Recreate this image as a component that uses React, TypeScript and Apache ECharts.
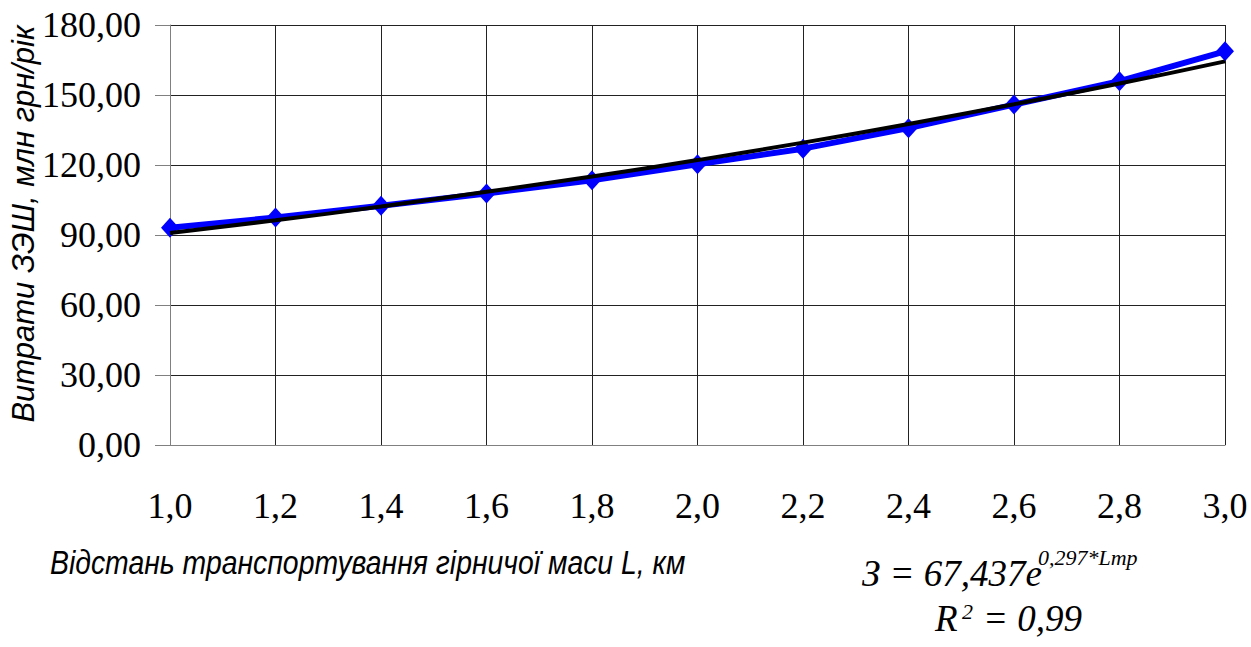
import React, { useEffect, useRef } from "react";
import * as echarts from "echarts";

const xValues = [1.0, 1.2, 1.4, 1.6, 1.8, 2.0, 2.2, 2.4, 2.6, 2.8, 3.0];
const costValues = [93.1, 97.5, 102.5, 107.8, 113.5, 120.3, 127.0, 135.8, 145.9, 155.9, 168.7];
const trendValues = [90.9, 96.3, 102.2, 108.5, 115.1, 122.1, 129.6, 137.6, 146.0, 154.9, 164.4];
const yTitle = "Витрати ЗЭШ, млн грн/рік";
const xTitle = "Відстань транспортування гірничої маси L, км";
const eqMain = "З = 67,437e";
const eqSup = "0,297*Lmp";
const r2Main = "R";
const r2Sup = "2";
const r2Rest = "= 0,99";

const SERIF = "Liberation Serif";
const SANS = "Liberation Sans";

const txt = (
  text: string,
  x: number,
  y: number,
  size: number,
  family: string,
  scaleX: number,
  extra: any = {}
) => ({
  type: "text",
  x,
  y,
  scaleX,
  ...extra,
  style: {
    text,
    fontFamily: family,
    fontSize: size,
    fontStyle: "italic",
    fill: "#000",
    align: extra.align || "left",
    verticalAlign: "middle",
  },
});

export default function App() {
  const ref = useRef<HTMLDivElement>(null);
  useEffect(() => {
    document.body.style.margin = "0";
    const chart = echarts.init(ref.current!, null, { renderer: "svg" });
    chart.setOption({
      animation: false,
      backgroundColor: "#ffffff",
      grid: { left: 170, right: 26, top: 25, bottom: 202 },
      xAxis: {
        type: "value",
        min: 1,
        max: 3,
        interval: 0.2,
        axisLine: { show: true, lineStyle: { color: "#808080", width: 1 } },
        axisTick: { show: false },
        splitLine: { show: true, lineStyle: { color: "#222", width: 1 } },
        axisLabel: {
          margin: 43,
          color: "#000",
          fontFamily: SERIF,
          fontSize: 36,
          formatter: (v: number) => v.toFixed(1).replace(".", ","),
        },
      },
      yAxis: {
        type: "value",
        min: 0,
        max: 180,
        interval: 30,
        axisLine: { show: true, lineStyle: { color: "#808080", width: 1 } },
        axisTick: { show: true, inside: false, length: 15, lineStyle: { color: "#808080" } },
        splitLine: { show: true, lineStyle: { color: "#222", width: 1 } },
        axisLabel: {
          margin: 29,
          color: "#000",
          fontFamily: SERIF,
          fontSize: 36,
          formatter: (v: number) => v.toFixed(2).replace(".", ","),
        },
      },
      series: [
        {
          type: "line",
          data: xValues.map((x, i) => [x, costValues[i]]),
          symbol: "diamond",
          symbolSize: [18, 20],
          itemStyle: { color: "#0000ff" },
          lineStyle: { color: "#0000ff", width: 6 },
          z: 2,
        },
        {
          type: "line",
          data: xValues.map((x, i) => [x, trendValues[i]]),
          symbol: "none",
          smooth: true,
          lineStyle: { color: "#000000", width: 4 },
          z: 3,
        },
      ],
      graphic: [
        txt(yTitle, 23, 224, 31, SANS, 1, { rotation: Math.PI / 2, align: "center" }),
        txt(xTitle, 50, 563, 33, SANS, 0.86),
        txt(eqMain, 862, 573, 37, SERIF, 1),
        txt(eqSup, 1038, 557, 22, SERIF, 1),
        txt(r2Main, 935, 618, 37, SERIF, 1),
        txt(r2Sup, 962, 611, 22, SERIF, 1),
        txt(r2Rest, 983, 618, 37, SERIF, 1),
      ],
    });
    return () => chart.dispose();
  }, []);
  return <div ref={ref} style={{ width: 1251, height: 647 }} />;
}
